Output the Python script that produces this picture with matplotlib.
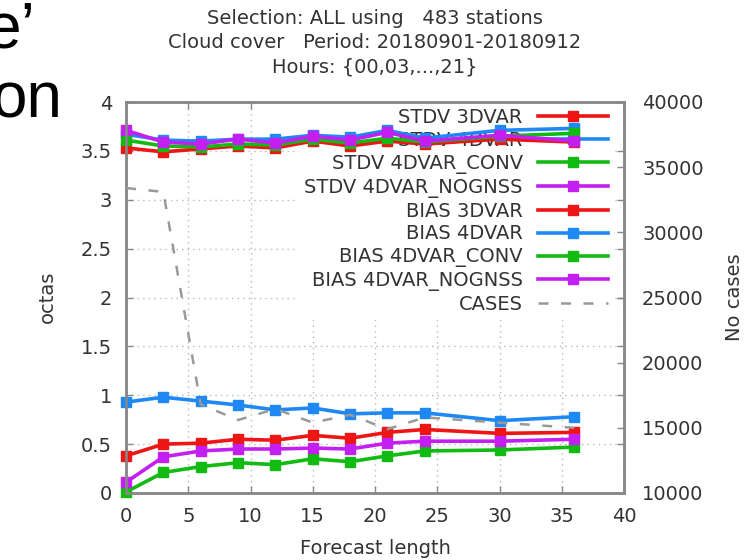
import matplotlib
matplotlib.use("Agg")
import matplotlib.pyplot as plt

plt.rcParams["font.family"] = ["DejaVu Sans"]

# forecast lead times (hours)
lead = [0, 3, 6, 9, 12, 15, 18, 21, 24, 30, 36]

# standard deviation (octas)
stdv_3dvar = [3.53, 3.49, 3.52, 3.55, 3.53, 3.60, 3.55, 3.60, 3.57, 3.62, 3.59]
stdv_4dvar = [3.67, 3.61, 3.60, 3.62, 3.62, 3.66, 3.64, 3.71, 3.63, 3.71, 3.73]
stdv_conv = [3.61, 3.55, 3.54, 3.57, 3.56, 3.62, 3.58, 3.63, 3.59, 3.65, 3.68]
stdv_nognss = [3.71, 3.59, 3.57, 3.62, 3.58, 3.65, 3.61, 3.69, 3.60, 3.66, 3.60]

# bias (octas)
bias_3dvar = [0.38, 0.50, 0.51, 0.55, 0.54, 0.59, 0.56, 0.62, 0.65, 0.61, 0.62]
bias_4dvar = [0.93, 0.98, 0.94, 0.90, 0.85, 0.87, 0.81, 0.82, 0.82, 0.74, 0.78]
bias_conv = [0.01, 0.21, 0.27, 0.31, 0.29, 0.35, 0.32, 0.38, 0.43, 0.44, 0.47]
bias_nognss = [0.11, 0.37, 0.43, 0.45, 0.45, 0.46, 0.45, 0.51, 0.53, 0.53, 0.55]

# number of cases (right axis)
cases = [33400, 33100, 16800, 15600, 16450, 15400, 16000, 14900, 15800, 15400, 15000]

title_lines = ["Selection: ALL using   483 stations",
               "Cloud cover   Period: 20180901-20180912",
               "Hours: {00,03,...,21}"]

RED = "#ee1515"
BLUE = "#1e88f5"
GREEN = "#12bb12"
PURPLE = "#c21ff0"
GRAY = "#888888"
TXT = "#333333"
FS = 14

W, H = 752, 560


def px(x, y):
    # pixel position -> figure fraction
    return x / W, 1 - y / H


def main():
    fig = plt.figure(figsize=(W / 100, H / 100), dpi=100)
    ax = fig.add_axes([126 / W, 1 - 493 / H, (624 - 126) / W, (493 - 102) / H])
    ax2 = ax.twinx()

    series = [
        ("STDV 3DVAR", stdv_3dvar, RED),
        ("STDV 4DVAR", stdv_4dvar, BLUE),
        ("STDV 4DVAR_CONV", stdv_conv, GREEN),
        ("STDV 4DVAR_NOGNSS", stdv_nognss, PURPLE),
        ("BIAS 3DVAR", bias_3dvar, RED),
        ("BIAS 4DVAR", bias_4dvar, BLUE),
        ("BIAS 4DVAR_CONV", bias_conv, GREEN),
        ("BIAS 4DVAR_NOGNSS", bias_nognss, PURPLE),
    ]
    handles = []
    for label, vals, col in series:
        h, = ax.plot(lead, vals, color=col, lw=2.6, marker="s", ms=7,
                     label=label, clip_on=False, zorder=3)
        handles.append(h)

    hc, = ax2.plot(lead, cases, color="#999999", lw=1.8, dashes=(4, 5),
                   label="CASES", zorder=3)
    handles.append(hc)

    ax.set_xlim(0, 40)
    ax.set_ylim(0, 4)
    ax2.set_ylim(10000, 40000)
    ax.set_xticks(range(0, 41, 5))
    ax.set_yticks([i * 0.5 for i in range(9)])
    ax.set_yticklabels(["0", "0.5", "1", "1.5", "2", "2.5", "3", "3.5", "4"])
    ax2.set_yticks(range(10000, 40001, 5000))

    ax.set_axisbelow(True)
    ax.grid(True, color="#b8b8b8", lw=1, linestyle=(0, (1, 3)))

    ax.tick_params(direction="in", top=True, right=True, length=5,
                   width=1, color=GRAY, labelsize=FS, labelcolor=TXT)
    ax.tick_params(axis="x", pad=10)
    ax.tick_params(axis="y", pad=10)
    ax2.tick_params(direction="in", length=5, width=1, color=GRAY,
                    labelsize=FS, labelcolor=TXT, pad=13)
    for a in (ax, ax2):
        for sp in a.spines.values():
            sp.set_color(GRAY)
            sp.set_linewidth(1.8)

    leg = ax.legend(handles=handles, loc="upper right",
                    bbox_to_anchor=(0.978, 0.997), borderaxespad=0,
                    markerfirst=False, frameon=True, fancybox=False,
                    fontsize=FS, labelspacing=0.2, handlelength=3.6,
                    handletextpad=0.8, borderpad=0.25, labelcolor=TXT)
    leg.get_frame().set_facecolor("white")
    leg.get_frame().set_edgecolor("none")
    leg.get_frame().set_alpha(1)
    leg.set_zorder(2)

    # titles and axis labels
    for txt, y in zip(title_lines, [18, 43, 67]):
        fig.text(*px(375, y), txt, ha="center", va="center",
                 fontsize=FS, color=TXT)
    fig.text(*px(375, 548), "Forecast length", ha="center", va="center",
             fontsize=FS, color=TXT)
    fig.text(*px(47, 297), "octas", ha="center", va="center",
             rotation=90, fontsize=FS, color=TXT)
    fig.text(*px(735, 297), "No cases", ha="center", va="center",
             rotation=90, fontsize=FS, color=TXT)

    # leftover slide text cut at the left edge
    fig.text(*px(35, 48), "e\u2019", ha="right", va="baseline",
             fontsize=46, family="Liberation Sans", color="black")
    fig.text(*px(62, 118), "on", ha="right", va="baseline",
             fontsize=46, family="Liberation Sans", color="black")

    fig.savefig("out.png", dpi=100)


if __name__ == "__main__":
    main()
